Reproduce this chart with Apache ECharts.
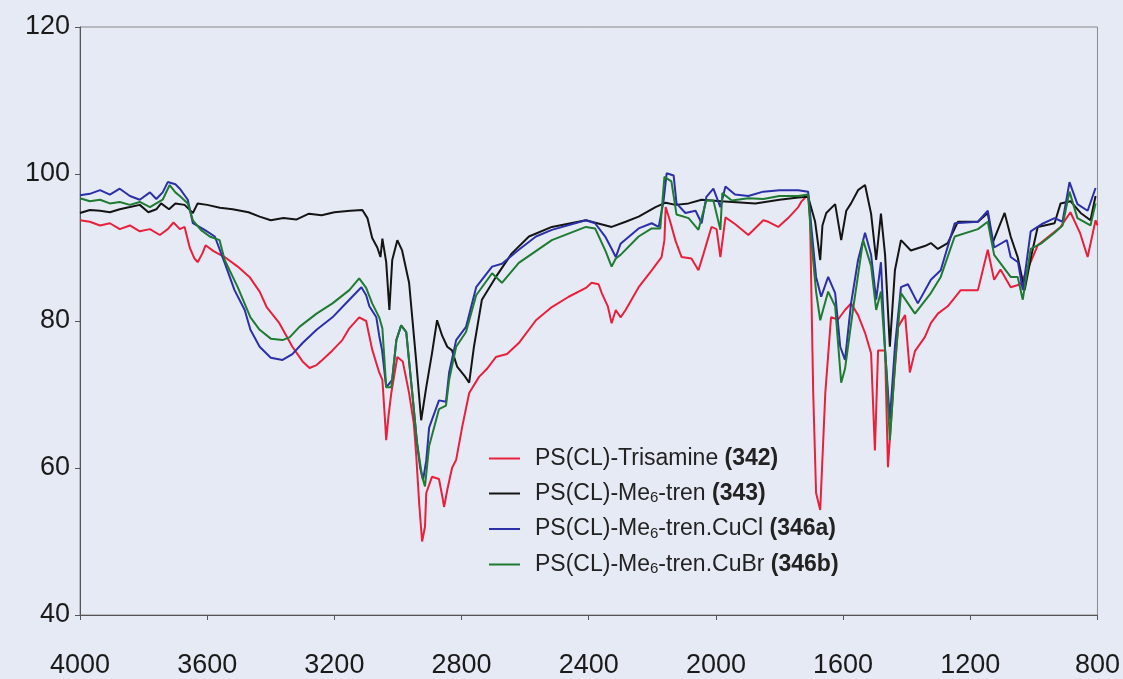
<!DOCTYPE html>
<html style="height: 100%">

<head>
    <meta charset="utf-8">
</head>

<body style="height: 100%; margin: 0; background: #e6eaf5">
    <div id="container" style="width: 1123px; height: 679px"></div>
    <script type="text/javascript" src="https://cdn.jsdelivr.net/npm/echarts@6/dist/echarts.min.js"></script>
    <script type="text/javascript">
        // wavenumber (cm-1), transmittance (%)
        var xTicks = [4000, 3600, 3200, 2800, 2400, 2000, 1600, 1200, 800];
        var yTicks = [40, 60, 80, 100, 120];

        var trisamine342 = [
            [4000, 93.7], [3969, 93.5], [3937, 93], [3906, 93.3], [3875, 92.5], [3843, 93], [3812, 92.2], [3780, 92.5],
            [3749, 91.7], [3724, 92.5], [3706, 93.4], [3686, 92.5], [3671, 92.8], [3655, 90], [3640, 88.5], [3630, 88],
            [3615, 89.2], [3605, 90.3], [3580, 89.5], [3545, 88.7], [3504, 87.4], [3467, 86], [3435, 84], [3413, 81.9],
            [3373, 79.7], [3332, 76.5], [3300, 74.5], [3278, 73.6], [3256, 74], [3238, 74.7], [3206, 76], [3175, 77.4],
            [3153, 79], [3122, 80.5], [3100, 80], [3081, 76.1], [3059, 73], [3049, 72], [3040, 66], [3037, 63.8],
            [3030, 67], [3021, 70.2], [3002, 75.1], [2985, 74.5], [2965, 70.2], [2950, 66], [2943, 62], [2933, 55],
            [2924, 50], [2915, 52], [2911, 56.6], [2893, 58.8], [2871, 58.5], [2860, 56], [2855, 54.7], [2845, 57],
            [2830, 60], [2817, 61.1], [2798, 65.6], [2776, 70.2], [2745, 72.4], [2720, 73.5], [2692, 75.1], [2657, 75.5],
            [2620, 77], [2566, 80.1], [2516, 81.9], [2463, 83.3], [2409, 84.5], [2391, 85.2], [2369, 85], [2359, 83.8],
            [2340, 82], [2328, 79.7], [2315, 81.5], [2300, 80.5], [2284, 81.5], [2243, 84.6], [2202, 86.9], [2171, 88.7],
            [2162, 91], [2158, 95.5], [2145, 93.7], [2127, 90.9], [2108, 88.7], [2077, 88.5], [2055, 86.9], [2040, 89],
            [2014, 92.8], [1998, 92.5], [1986, 88.7], [1970, 94.1], [1940, 93.2], [1898, 91.7], [1851, 93.7], [1835, 93.5],
            [1804, 92.8], [1773, 94], [1741, 95.5], [1732, 96.2], [1710, 97.2], [1704, 94], [1694, 70.2], [1685, 56.6],
            [1672, 54.3], [1656, 70.2], [1638, 80.5], [1616, 80.2], [1594, 81.5], [1575, 82.4], [1553, 80.8], [1531, 78.4],
            [1512, 75.6], [1500, 62.4], [1490, 76], [1468, 76], [1459, 60.1], [1443, 70.2], [1427, 79.2], [1405, 80.8],
            [1390, 73], [1374, 75.9], [1343, 77.8], [1324, 79.7], [1302, 81], [1271, 82], [1230, 84.2], [1176, 84.2],
            [1145, 89.7], [1125, 85.6], [1105, 87], [1073, 84.6], [1042, 85], [1020, 87], [988, 90.3], [916, 92.8],
            [885, 94.8], [855, 92], [831, 88.7], [806, 93.7], [800, 93]
        ];

        var me6tren343 = [
            [4000, 94.7], [3969, 95.1], [3937, 95], [3906, 94.8], [3875, 95.2], [3843, 95.5], [3812, 95.8], [3785, 94.8],
            [3760, 95.2], [3745, 96], [3720, 95.2], [3700, 96], [3671, 95.8], [3645, 94.7], [3630, 96], [3600, 95.8],
            [3560, 95.4], [3520, 95.2], [3470, 94.8], [3435, 94.2], [3400, 93.7], [3360, 94], [3320, 93.8], [3280, 94.6],
            [3240, 94.4], [3200, 94.8], [3150, 95], [3112, 95.1], [3096, 94], [3081, 91.3], [3065, 90], [3055, 88.7],
            [3049, 91.2], [3037, 88], [3027, 81.5], [3018, 88.3], [3002, 91], [2987, 89.6], [2965, 85.2], [2943, 74.7],
            [2927, 66.5], [2911, 71], [2893, 75.6], [2877, 80.1], [2861, 78], [2845, 76.5], [2830, 76], [2814, 73.8],
            [2790, 72.5], [2776, 71.6], [2761, 76.5], [2736, 82.9], [2692, 86], [2642, 89.2], [2588, 91.5], [2516, 92.8],
            [2409, 93.7], [2328, 92.8], [2284, 93.5], [2243, 94.2], [2190, 95.5], [2158, 96.1], [2127, 95.8], [2086, 96],
            [2045, 96.5], [1983, 96.3], [1876, 96], [1800, 96.5], [1741, 96.8], [1710, 96.9], [1688, 93.5], [1672, 88.3],
            [1665, 93], [1653, 94.7], [1625, 95.9], [1606, 91], [1590, 95], [1575, 96], [1553, 97.8], [1531, 98.5],
            [1512, 94.6], [1496, 88.3], [1481, 94.6], [1468, 89], [1453, 76.5], [1437, 86.9], [1418, 91], [1387, 89.6],
            [1343, 90.2], [1324, 90.6], [1302, 89.8], [1271, 90.6], [1239, 93.5], [1176, 93.5], [1145, 94.7], [1130, 90.6],
            [1092, 94.7], [1073, 91.5], [1051, 88.7], [1029, 84.2], [1010, 88.5], [988, 92.8], [935, 93.3], [916, 96],
            [885, 96.3], [853, 94.7], [822, 93.7], [806, 97]
        ];

        var cucl346a = [
            [4000, 97.1], [3969, 97.3], [3937, 97.8], [3906, 97.2], [3875, 98], [3843, 97], [3812, 96.5], [3780, 97.5],
            [3760, 96.6], [3740, 97.5], [3724, 98.9], [3700, 98.6], [3686, 98], [3661, 96.5], [3645, 93.3], [3608, 92.4],
            [3576, 91.5], [3545, 87.9], [3514, 84.2], [3482, 81.5], [3464, 78.8], [3435, 76.5], [3400, 75], [3363, 74.7],
            [3332, 75.5], [3300, 77], [3256, 78.8], [3206, 80.5], [3153, 82.9], [3115, 84.6], [3100, 83.5], [3090, 82],
            [3068, 80.5], [3059, 78], [3050, 76], [3037, 71], [3027, 71.5], [3018, 72], [3005, 77.4], [2990, 79.4],
            [2974, 78.5], [2955, 70.2], [2940, 63.4], [2930, 60], [2921, 58.4], [2911, 61], [2902, 65.5], [2871, 69.2],
            [2849, 69], [2839, 73], [2817, 77.4], [2786, 79.2], [2754, 84.6], [2704, 87.4], [2673, 87.8], [2620, 89.7],
            [2566, 91.5], [2516, 92.4], [2409, 93.7], [2380, 93.3], [2347, 91.4], [2330, 90], [2315, 88.7], [2300, 90.5],
            [2243, 92.6], [2202, 93.3], [2180, 92.8], [2165, 96.2], [2155, 100.1], [2133, 99.8], [2124, 96], [2096, 94.7],
            [2064, 95], [2045, 93.3], [2030, 96.9], [2008, 98], [1986, 95.5], [1970, 98.3], [1940, 97.2], [1898, 97],
            [1851, 97.6], [1800, 97.8], [1741, 97.8], [1710, 97.6], [1700, 92.8], [1685, 86], [1669, 83.3], [1647, 86],
            [1625, 83.8], [1609, 76.5], [1594, 74.7], [1575, 82.4], [1553, 88.3], [1531, 92], [1512, 89], [1496, 82.9],
            [1481, 88], [1468, 76.1], [1453, 66.6], [1437, 76.5], [1418, 84.6], [1396, 85], [1365, 82.4], [1324, 85.6],
            [1293, 86.9], [1249, 93.3], [1176, 93.5], [1145, 95], [1125, 90], [1085, 91], [1073, 88.7], [1050, 88],
            [1035, 84.2], [1010, 92.2], [975, 93.2], [935, 94], [910, 93.5], [888, 98.9], [863, 95.9], [831, 95],
            [806, 98.1]
        ];

        var cubr346b = [
            [4000, 96.7], [3969, 96.3], [3937, 96.5], [3906, 96], [3875, 96.2], [3843, 95.8], [3812, 96.2], [3780, 95.5],
            [3760, 96], [3740, 96.5], [3718, 98.5], [3700, 97.5], [3686, 97], [3661, 96], [3645, 93.7], [3620, 92.4],
            [3592, 91.5], [3561, 91], [3545, 88.3], [3504, 84.6], [3464, 80.5], [3435, 78.8], [3400, 77.6], [3363, 77.4],
            [3340, 77.8], [3310, 79.2], [3256, 81], [3206, 82.4], [3153, 84.2], [3122, 85.8], [3100, 84.5], [3081, 82.4],
            [3059, 80.5], [3049, 79], [3037, 71], [3021, 71], [3005, 77.4], [2990, 79.4], [2974, 78.5], [2955, 70.2],
            [2940, 63.4], [2924, 58.8], [2915, 57.5], [2902, 63], [2871, 68], [2849, 68.5], [2839, 72], [2817, 76.5],
            [2786, 78.5], [2754, 83.5], [2704, 86.5], [2673, 85.2], [2620, 87.9], [2516, 91], [2409, 92.8], [2380, 92.6],
            [2347, 89.5], [2328, 87.4], [2315, 88.5], [2300, 89], [2243, 91.5], [2202, 92.6], [2175, 92.6], [2162, 99.6],
            [2140, 99], [2124, 94.5], [2086, 94], [2055, 92.4], [2030, 96.4], [2008, 96.4], [1986, 92.4], [1980, 97.4],
            [1950, 96.4], [1898, 96.7], [1851, 96.6], [1800, 97], [1741, 97], [1710, 97.2], [1700, 91], [1685, 84],
            [1672, 80.1], [1647, 84], [1625, 82], [1606, 71.6], [1594, 73.5], [1569, 81.5], [1537, 91], [1512, 87.5],
            [1496, 81.5], [1481, 84], [1465, 74], [1453, 63.8], [1437, 74], [1418, 83.8], [1374, 81], [1324, 83.8],
            [1293, 86], [1249, 91.5], [1176, 92.5], [1145, 93.5], [1125, 89], [1073, 86], [1051, 86], [1035, 82.9],
            [1010, 89.8], [975, 90.6], [935, 92], [910, 93], [888, 97.6], [863, 94], [822, 93], [806, 96]
        ];

        var seriesNames = ['s342', 's343', 's346a', 's346b'];
        var seriesColors = ['#e8203c', '#141414', '#2b2fa8', '#1f7a32'];
        // legend text pieces: plain, subscript, plain, bold
        var legendParts = [
            ['PS(CL)-Trisamine ', '', '', '(342)'],
            ['PS(CL)-Me', '6', '-tren ', '(343)'],
            ['PS(CL)-Me', '6', '-tren.CuCl ', '(346a)'],
            ['PS(CL)-Me', '6', '-tren.CuBr ', '(346b)']
        ];
        var allData = [trisamine342, me6tren343, cucl346a, cubr346b];

        var dom = document.getElementById("container");
        var myChart = echarts.init(dom);
        var font = "'Liberation Sans', Arial, sans-serif";

        var series = [];
        for (var i = 0; i < allData.length; i++) {
            series.push({
                name: seriesNames[i],
                type: 'line',
                data: allData[i],
                symbol: 'none',
                lineStyle: { width: 2, color: seriesColors[i] },
                itemStyle: { color: seriesColors[i] }
            });
        }

        var option = {
            backgroundColor: '#e6eaf5',
            animation: false,
            grid: {
                left: 80, right: 23, top: 27, bottom: 64,
                show: true, borderColor: '#8a8a8a', borderWidth: 1
            },
            legend: {
                data: seriesNames,
                orient: 'vertical',
                left: 484,
                top: 442,
                icon: 'rect',
                itemWidth: 31,
                itemHeight: 2,
                itemGap: 12,
                formatter: function (name) {
                    var p = legendParts[seriesNames.indexOf(name)];
                    var s = '{n|' + p[0] + '}';
                    if (p[1]) s += '{s|' + p[1] + '}{n|' + p[2] + '}';
                    return s + '{b|' + p[3] + '}';
                },
                textStyle: {
                    fontFamily: font,
                    color: '#222',
                    padding: [0, 0, 0, 10],
                    rich: {
                        n: { fontSize: 23, fontFamily: font, color: '#222', lineHeight: 24 },
                        s: { fontSize: 15, fontFamily: font, color: '#222', lineHeight: 24, verticalAlign: 'bottom' },
                        b: { fontSize: 23, fontFamily: font, color: '#222', fontWeight: 'bold', lineHeight: 24 }
                    }
                }
            },
            xAxis: {
                type: 'value',
                inverse: true,
                min: 800,
                max: 4000,
                interval: 400,
                splitLine: { show: false },
                axisLine: { lineStyle: { color: '#555', width: 1 } },
                axisTick: { length: 5, lineStyle: { color: '#555' } },
                axisLabel: {
                    fontFamily: font, fontSize: 27, color: '#1a1a1a', margin: 37,
                    formatter: function (v) { return xTicks.indexOf(v) >= 0 ? String(v) : ''; }
                }
            },
            yAxis: {
                type: 'value',
                min: 40,
                max: 120,
                interval: 20,
                splitLine: { show: false },
                axisLine: { show: true, lineStyle: { color: '#555', width: 1 } },
                axisTick: { show: true, length: 5, lineStyle: { color: '#555' } },
                axisLabel: {
                    fontFamily: font, fontSize: 27, color: '#1a1a1a', margin: 10,
                    formatter: function (v) { return yTicks.indexOf(v) >= 0 ? String(v) : ''; }
                }
            },
            series: series
        };

        myChart.setOption(option, true);
    </script>
</body>

</html>
